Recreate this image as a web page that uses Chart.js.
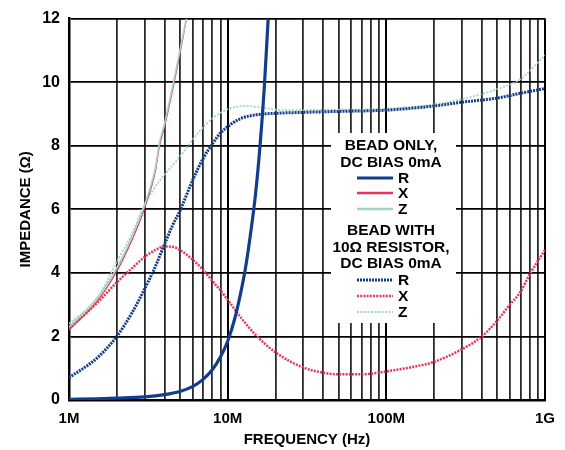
<!DOCTYPE html>
<html>
<head>
<meta charset="utf-8">
<script src="https://cdn.jsdelivr.net/npm/chart.js@4"></script>
<style>
  html, body { margin: 0; padding: 0; background: #fff; }
  #wrap { width: 565px; height: 450px; }
</style>
</head>
<body>
<div id="wrap"><canvas id="chart" width="565" height="450"></canvas></div>
<script>
// frequency in MHz, impedance in ohms
const rBeadF = [1, 1.5, 2, 3, 4, 5, 6, 7, 8, 9, 10, 11, 12, 13, 14, 15, 16, 17, 18];
const rBeadV = [0.02, 0.04, 0.06, 0.1, 0.17, 0.27, 0.42, 0.65, 0.95, 1.35, 1.85, 2.5, 3.3, 4.2, 5.3, 6.5, 8.0, 9.8, 12];

const xBeadF = [1, 1.5, 2, 2.5, 3, 3.5, 3.7, 4, 4.6, 5, 5.5];
const xBeadV = [2.2, 3.1, 4.05, 5.05, 6.05, 7.2, 7.95, 8.6, 10.0, 10.9, 12];

const zBeadF = [1, 1.5, 2, 2.5, 3, 3.5, 3.7, 4, 4.6, 5, 5.5];
const zBeadV = [2.3, 3.2, 4.15, 5.15, 6.15, 7.3, 8.05, 8.7, 10.1, 11.0, 12];

const rResF = [1, 1.5, 2, 2.5, 3, 3.5, 4, 4.5, 5, 6, 7, 8, 9, 10, 12, 15, 20, 30, 50, 100, 200, 300, 500, 700, 1000];
const rResV = [0.7, 1.32, 2.0, 2.75, 3.5, 4.2, 4.9, 5.5, 5.95, 6.9, 7.6, 8.05, 8.4, 8.6, 8.85, 8.97, 9.02, 9.05, 9.08, 9.12, 9.25, 9.37, 9.5, 9.65, 9.8];

const xResF = [1, 1.5, 2, 2.5, 3, 3.5, 4, 4.5, 5, 6, 7, 8, 9, 10, 12, 15, 20, 30, 40, 50, 70, 100, 150, 200, 300, 400, 500, 600, 700, 800, 1000];
const xResV = [2.25, 3.05, 3.7, 4.15, 4.5, 4.72, 4.83, 4.82, 4.72, 4.42, 4.1, 3.75, 3.45, 3.15, 2.62, 2.05, 1.5, 1.02, 0.86, 0.81, 0.81, 0.9, 1.05, 1.2, 1.6, 2.0, 2.5, 3.0, 3.4, 3.95, 4.72];

const zResF = [1, 1.5, 2, 2.5, 3, 3.7, 4.9, 6.6, 8, 10, 13, 17, 22, 30, 50, 100, 200, 300, 500, 700, 1000];
const zResV = [2.4, 3.2, 4.35, 5.25, 6.15, 6.88, 7.6, 8.44, 8.85, 9.15, 9.25, 9.19, 9.12, 9.12, 9.13, 9.16, 9.3, 9.47, 9.78, 10.1, 10.84];

const xTicks = [];
[1, 10, 100].forEach(d => { for (let m = 1; m <= 9; m++) xTicks.push(d * m); });
xTicks.push(1000);
const xTickNames = { 1: "1M", 10: "10M", 100: "100M", 1000: "1G" };
const yTicks = [0, 2, 4, 6, 8, 10, 12];

const NAVY = "#123c8c";
const RED = "#e5365a";
const GREEN = "#a3d6bd";
const FONT = "'Liberation Sans', Arial, sans-serif";

function pts(f, v) {
  return f.map((x, i) => ({ x: x, y: v[i] }));
}

const legendBox = {
  id: "legendBox",
  beforeDatasetsDraw(chart) {
    const ctx = chart.ctx;
    ctx.save();
    ctx.fillStyle = "#fff";
    ctx.fillRect(331, 133, 125, 190);
    ctx.fillStyle = "#000";
    ctx.font = "bold 15.5px " + FONT;
    ctx.textAlign = "center";
    ctx.textBaseline = "middle";
    ctx.fillText("BEAD ONLY,", 391, 146);
    ctx.fillText("DC BIAS 0mA", 391, 163);
    ctx.fillText("BEAD WITH", 391, 231);
    ctx.fillText("10Ω RESISTOR,", 391, 248);
    ctx.fillText("DC BIAS 0mA", 391, 264);
    const rows = [
      ["R", NAVY, 3, [], 178],
      ["X", RED, 2.5, [], 193],
      ["Z", GREEN, 2.5, [], 209],
      ["R", NAVY, 3, [2, 1], 280],
      ["X", RED, 2.5, [2, 1.2], 296],
      ["Z", GREEN, 2, [2, 1.5], 312]
    ];
    rows.forEach(r => {
      ctx.beginPath();
      ctx.strokeStyle = r[1];
      ctx.lineWidth = r[2];
      ctx.setLineDash(r[3]);
      ctx.moveTo(357, r[4]);
      ctx.lineTo(393, r[4]);
      ctx.stroke();
      ctx.setLineDash([]);
      ctx.textAlign = "left";
      ctx.fillText(r[0], 398, r[4] + 1);
    });
    ctx.restore();
  }
};

new Chart(document.getElementById("chart"), {
  type: "line",
  data: {
    datasets: [
      { label: "R bead", data: pts(rBeadF, rBeadV), borderColor: NAVY, borderWidth: 3.2 },
      { label: "Z bead", data: pts(zBeadF, zBeadV), borderColor: GREEN, borderWidth: 1.6 },
      { label: "X bead", data: pts(xBeadF, xBeadV), borderColor: RED, borderWidth: 1.3 },
      { label: "R res", data: pts(rResF, rResV), borderColor: NAVY, borderWidth: 3, borderDash: [2, 1] },
      { label: "X res", data: pts(xResF, xResV), borderColor: RED, borderWidth: 2.5, borderDash: [2, 1.2] },
      { label: "Z res", data: pts(zResF, zResV), borderColor: GREEN, borderWidth: 1.8, borderDash: [2, 1.5] }
    ]
  },
  options: {
    responsive: false,
    animation: false,
    layout: { padding: { left: 0, right: 17, top: 16, bottom: 0 } },
    elements: {
      point: { radius: 0 },
      line: { tension: 0.4, cubicInterpolationMode: "monotone", fill: false }
    },
    plugins: {
      legend: { display: false },
      tooltip: { enabled: false }
    },
    scales: {
      x: {
        type: "logarithmic",
        min: 1,
        max: 1000,
        afterBuildTicks(scale) {
          scale.ticks = xTicks.map(v => ({ value: v }));
        },
        afterFit(scale) { scale.height = 50; },
        ticks: {
          autoSkip: false,
          maxRotation: 0,
          padding: 10,
          color: "#000",
          font: { family: FONT, size: 15, weight: "bold" },
          callback: v => xTickNames[v] || ""
        },
        grid: {
          drawTicks: false,
          color: ctx => (xTickNames[ctx.tick.value] ? "#000" : "#2a2a2a"),
          lineWidth: ctx => (xTickNames[ctx.tick.value] ? 2 : 1.8)
        },
        border: { color: "#000", width: 2.5 },
        title: {
          display: true,
          text: "FREQUENCY (Hz)",
          color: "#000",
          padding: { top: 0, bottom: 1 },
          font: { family: FONT, size: 15, weight: "bold" }
        }
      },
      y: {
        min: 0,
        max: 12,
        afterBuildTicks(scale) {
          scale.ticks = yTicks.map(v => ({ value: v }));
        },
        afterFit(scale) { scale.width = 69; },
        ticks: {
          padding: 9,
          color: "#000",
          font: { family: FONT, size: 16, weight: "bold" }
        },
        grid: { drawTicks: false, color: "#000", lineWidth: 1.8 },
        border: { color: "#000", width: 2.5 },
        title: {
          display: true,
          text: "IMPEDANCE (Ω)",
          color: "#000",
          padding: { top: 17, bottom: 0 },
          font: { family: FONT, size: 15, weight: "bold" }
        }
      }
    }
  },
  plugins: [legendBox]
});
</script>
</body>
</html>
